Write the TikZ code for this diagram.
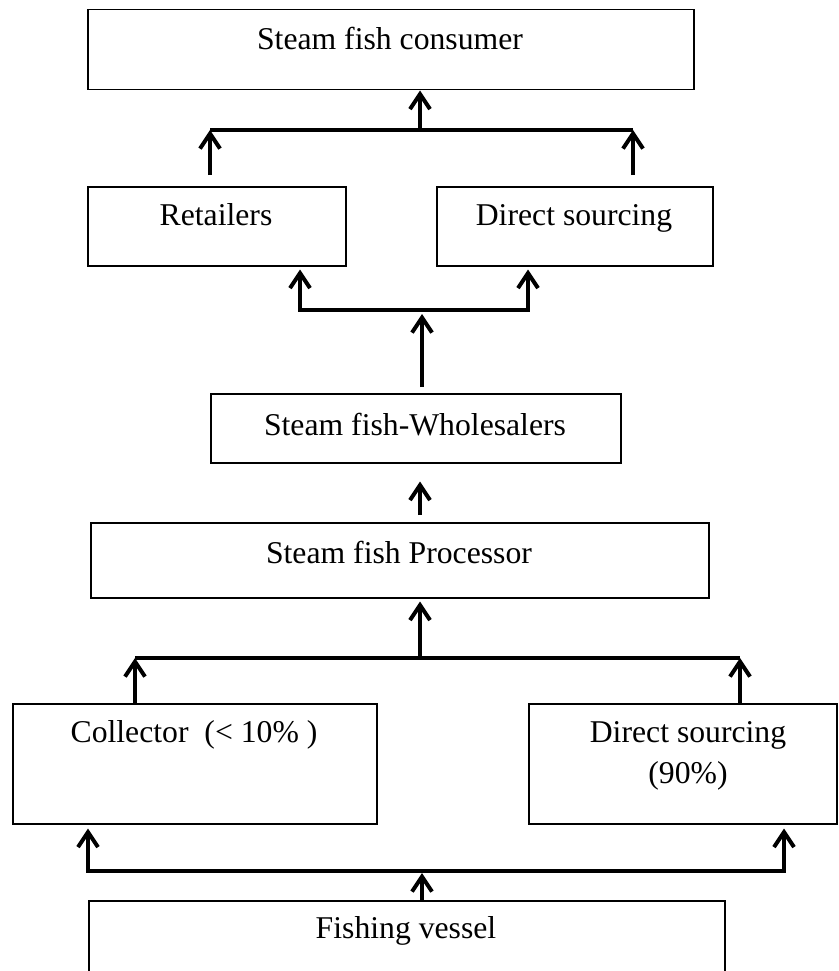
\documentclass[tikz,border=0pt]{standalone}
\usepackage{fontspec}
\setmainfont{Liberation Serif}
\usetikzlibrary{arrows.meta}
\begin{document}
\begin{tikzpicture}[x=1pt,y=-1pt,
  box/.style={draw, line width=1.5pt, inner sep=0pt, anchor=north west},
  lbl/.style={anchor=base, inner sep=0pt, font=\fontsize{31.7}{38}\selectfont},
  conn/.style={line width=4pt},
  arr/.style={conn, -{Straight Barb[length=15pt,width=20pt]}},
  arrboth/.style={conn, {Straight Barb[length=15pt,width=20pt]}-{Straight Barb[length=15pt,width=20pt]}}]
\clip (0,0) rectangle (838,971);
\fill[white] (0,0) rectangle (838,971);

% boxes
\node[box, minimum width=606pt, minimum height=80pt]  (cons) at (87,9) {};
\node[lbl] (consT) at (390,50) {Steam fish consumer};

\node[box, minimum width=258pt, minimum height=79pt]  (ret) at (87,186) {};
\node[lbl] (retT) at (216,225) {Retailers};

\node[box, minimum width=276pt, minimum height=79pt]  (dsu) at (436,186) {};
\node[lbl] (dsuT) at (574,225) {Direct sourcing};

\node[box, minimum width=410pt, minimum height=69pt]  (whl) at (210,393) {};
\node[lbl] (whlT) at (415,435) {Steam fish-Wholesalers};

\node[box, minimum width=618pt, minimum height=75pt]  (proc) at (90,522) {};
\node[lbl] (procT) at (399,563) {Steam fish Processor};

\node[box, minimum width=364pt, minimum height=120pt] (col) at (12,703) {};
\node[lbl] (colT) at (194,742) {Collector\ \ (< 10\% )};

\node[box, minimum width=308pt, minimum height=120pt] (dsl) at (528,703) {};
\node[lbl] (dslT1) at (688,742) {Direct sourcing};
\node[lbl] (dslT2) at (688,783) {(90\%)};

% the bottom box runs off the lower edge of the page
\node[box, minimum width=636pt, minimum height=120pt] (fish) at (88,900) {};
\node[lbl] (fishT) at (406,938) {Fishing vessel};

% junction points of the connector bars
\coordinate (b1L) at (210,130);
\coordinate (b1R) at (633,130);
\coordinate (b1C) at (420,130);
\coordinate (b2L) at (300,310);
\coordinate (b2R) at (528,310);
\coordinate (b2C) at (422,310);
\coordinate (a4)  at (420,0);
\coordinate (b3L) at (135,658);
\coordinate (b3R) at (740,658);
\coordinate (b3C) at (420,658);
\coordinate (b4L) at (88,871);
\coordinate (b4R) at (784,871);
\coordinate (b4C) at (422,871);

% retailers / direct sourcing -> consumer
\draw[conn] (b1L) -- (b1R);
\draw[arr] (b1C) -- (b1C |- cons.south);
\draw[arr, shorten <=11pt] (b1L |- ret.north) -- (b1L);
\draw[arr, shorten <=11pt] (b1R |- dsu.north) -- (b1R);

% wholesalers -> retailers / direct sourcing
\draw[arrboth, shorten <=3pt, shorten >=3pt]
  (b2L |- ret.south) -- (b2L) -- (b2R) -- (b2R |- dsu.south);
\draw[arr, shorten <=6pt, shorten >=4pt] (b2C |- whl.north) -- (b2C);

% processor -> wholesalers
\draw[arr, shorten <=7pt, shorten >=18pt] (a4 |- proc.north) -- (a4 |- whl.south);

% collector / direct sourcing -> processor
\draw[conn] (b3L) -- (b3R);
\draw[arr, shorten >=3pt] (b3C) -- (b3C |- proc.south);
\draw[arr] (b3L |- col.north) -- (b3L);
\draw[arr] (b3R |- dsl.north) -- (b3R);

% fishing vessel -> collector / direct sourcing
\draw[arrboth, shorten <=4pt, shorten >=4pt]
  (b4L |- col.south) -- (b4L) -- (b4R) -- (b4R |- dsl.south);
\draw[arr, shorten >=2pt] (b4C |- fish.north) -- (b4C);
\end{tikzpicture}
\end{document}
